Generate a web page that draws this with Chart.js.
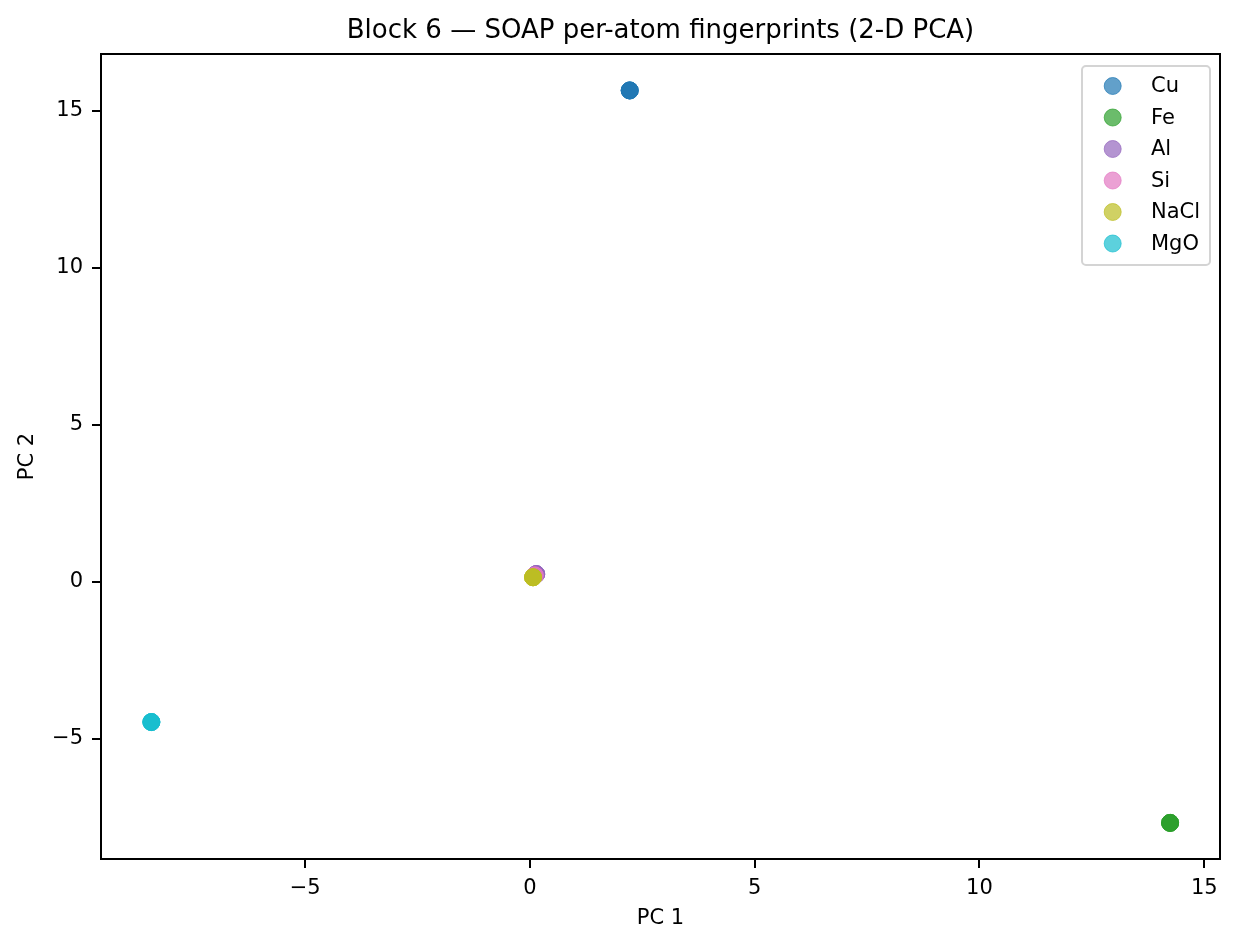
<!doctype HTML>
<html lang="en">
<head>
    <meta charset=utf-8>
    <title>SOAP PCA</title>
    <style type="text/css">
        * {
            padding: 0;
            margin: 0;
        }

        body {
            background: #fff;
        }

        div {
            width: 1238px;
            height: 950px;
        }
    </style>
    <script src="https://cdn.jsdelivr.net/npm/chart.js"></script>
</head>
<body>
    <div>
        <canvas id="pcaChart"></canvas>
    </div>

    <script type="text/javascript">
        // series (one entry per atom)
        const materials = ['Cu', 'Fe', 'Al', 'Si', 'NaCl', 'MgO'];
        const colors = ['#1f77b4', '#2ca02c', '#9467bd', '#e377c2', '#bcbd22', '#17becf'];
        const pc1 = [
            [2.22, 2.22, 2.22, 2.22],
            [14.24, 14.24, 14.24, 14.24],
            [0.14, 0.14, 0.14, 0.14],
            [0.11, 0.11],
            [0.07, 0.07, 0.07, 0.07],
            [-8.42, -8.42, -8.42, -8.42]
        ];
        const pc2 = [
            [15.64, 15.64, 15.64, 15.64],
            [-7.68, -7.68, -7.68, -7.68],
            [0.24, 0.24, 0.24, 0.24],
            [0.2, 0.2],
            [0.14, 0.14, 0.14, 0.14],
            [-4.47, -4.47, -4.47, -4.47]
        ];
        const xTicks = [-5, 0, 5, 10, 15];
        const yTicks = [-5, 0, 5, 10, 15];
        const title = 'Block 6 \u2014 SOAP per-atom fingerprints (2-D PCA)';

        const font = 'DejaVu Sans';

        function alpha(hex, a) {
            const n = parseInt(hex.slice(1), 16);
            return `rgba(${n >> 16}, ${(n >> 8) & 255}, ${n & 255}, ${a})`;
        }

        function fmt(v) {
            return v < 0 ? '\u2212' + Math.abs(v) : String(v);
        }

        // chart.js paints dataset 0 last, so flip the order to keep matplotlib stacking
        const datasets = materials.map((name, i) => ({
            label: name,
            order: materials.length - i,
            data: pc1[i].map((x, j) => ({x: x, y: pc2[i][j]})),
            backgroundColor: alpha(colors[i], 0.7),
            borderColor: alpha(colors[i], 0.7),
            borderWidth: 1,
            pointRadius: 8.5,
            pointHoverRadius: 8.5
        }));

        // title over the axes, frame round them, and a matplotlib-like legend inside
        const framePlugin = {
            id: 'frame',
            afterDraw(chart) {
                const {ctx, chartArea: a} = chart;
                ctx.save();
                ctx.fillStyle = '#000';
                ctx.font = `26px "${font}"`;
                ctx.textAlign = 'center';
                ctx.textBaseline = 'middle';
                ctx.fillText(title, (a.left + a.right) / 2, 31);

                ctx.strokeStyle = '#000';
                ctx.lineWidth = 2;
                ctx.strokeRect(a.left, a.top, a.right - a.left, a.bottom - a.top);

                const bx = 1082, by = 66, bw = 128, bh = 199;
                ctx.beginPath();
                ctx.roundRect(bx, by, bw, bh, 4);
                ctx.fillStyle = 'rgba(255,255,255,0.8)';
                ctx.fill();
                ctx.strokeStyle = '#d4d4d4';
                ctx.lineWidth = 2;
                ctx.stroke();

                ctx.font = `21px "${font}"`;
                ctx.textAlign = 'left';
                materials.forEach((name, i) => {
                    const y = 86 + i * 31.5;
                    ctx.beginPath();
                    ctx.arc(1112.7, y, 8.5, 0, Math.PI * 2);
                    ctx.fillStyle = alpha(colors[i], 0.7);
                    ctx.fill();
                    ctx.strokeStyle = alpha(colors[i], 0.7);
                    ctx.lineWidth = 1;
                    ctx.stroke();
                    ctx.fillStyle = '#000';
                    ctx.fillText(name, 1151, y + 1);
                });
                ctx.restore();
            }
        };

        const config = {
            type: 'scatter',
            data: {datasets},
            options: {
                responsive: true,
                maintainAspectRatio: false,
                devicePixelRatio: 1,
                animation: false,
                layout: {padding: {top: 54, right: 18, bottom: 0, left: 0}},
                plugins: {
                    legend: {display: false},
                    tooltip: {enabled: false},
                    title: {display: false}
                },
                scales: {
                    x: {
                        type: 'linear',
                        min: -9.54,
                        max: 15.35,
                        afterFit(scale) { scale.height = 91; },
                        afterBuildTicks(scale) { scale.ticks = xTicks.map(v => ({value: v})); },
                        border: {display: false},
                        grid: {drawOnChartArea: false, color: '#000', lineWidth: 2, tickLength: 9},
                        ticks: {
                            color: '#000',
                            padding: 8,
                            maxRotation: 0,
                            font: {family: font, size: 21},
                            callback: v => fmt(v)
                        },
                        title: {
                            display: true,
                            text: 'PC 1',
                            color: '#000',
                            font: {family: font, size: 21},
                            padding: {top: 0, bottom: 19}
                        }
                    },
                    y: {
                        type: 'linear',
                        min: -8.83,
                        max: 16.8,
                        afterFit(scale) { scale.width = 101; },
                        afterBuildTicks(scale) { scale.ticks = yTicks.map(v => ({value: v})); },
                        border: {display: false},
                        grid: {drawOnChartArea: false, color: '#000', lineWidth: 2, tickLength: 9},
                        ticks: {
                            color: '#000',
                            padding: 9,
                            font: {family: font, size: 21},
                            callback: v => fmt(v)
                        },
                        title: {
                            display: true,
                            text: 'PC 2',
                            color: '#000',
                            font: {family: font, size: 21},
                            padding: {top: 15, bottom: 0}
                        }
                    }
                }
            },
            plugins: [framePlugin]
        };

        const chart = new Chart(document.getElementById('pcaChart'), config);
    </script>
</body>
</html>
